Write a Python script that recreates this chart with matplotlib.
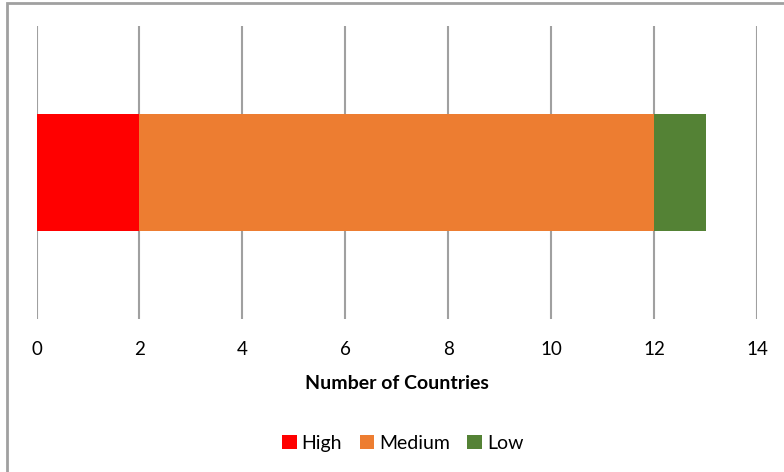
import matplotlib
matplotlib.use("Agg")
import matplotlib.pyplot as plt
from matplotlib.patches import Rectangle

plt.rcParams['font.family'] = ['Lato', 'DejaVu Sans']

categories = ['High', 'Medium', 'Low']
counts = [2, 10, 1]
colors = ['#FF0000', '#ED7D31', '#548235']
xticks = [0, 2, 4, 6, 8, 10, 12, 14]

fig = plt.figure(figsize=(7.84, 4.72), dpi=100)
ax = fig.add_axes([36.5 / 784, 1 - 319 / 472, (757.5 - 36.5) / 784, (319 - 26) / 472])

left = 0
for cat, val, col in zip(categories, counts, colors):
    ax.barh(0, val, left=left, height=0.4, color=col, label=cat, zorder=3)
    left += val

ax.set_xlim(0, 14)
ax.set_ylim(-0.5, 0.5)
ax.set_xticks(xticks)
ax.set_yticks([])
ax.xaxis.grid(True, color='#a0a0a0', linewidth=1.5, zorder=0)
ax.tick_params(axis='x', length=0, pad=16, labelsize=13.5)
for s in ax.spines.values():
    s.set_visible(False)
ax.set_xlabel('Number of Countries', fontsize=14, fontweight='bold', labelpad=12)

ax.legend(loc='upper center', bbox_to_anchor=(0.508, -0.335), ncol=3, frameon=False,
          fontsize=14, handlelength=0.75, handleheight=0.75, handletextpad=0.25,
          columnspacing=0.9)

fig.patches.append(Rectangle((7 / 784, -0.05), 1.05, 1.05 - 3 / 472,
                             transform=fig.transFigure, fill=False,
                             edgecolor='#a0a0a0', linewidth=2))

fig.savefig('out.png', dpi=100)
